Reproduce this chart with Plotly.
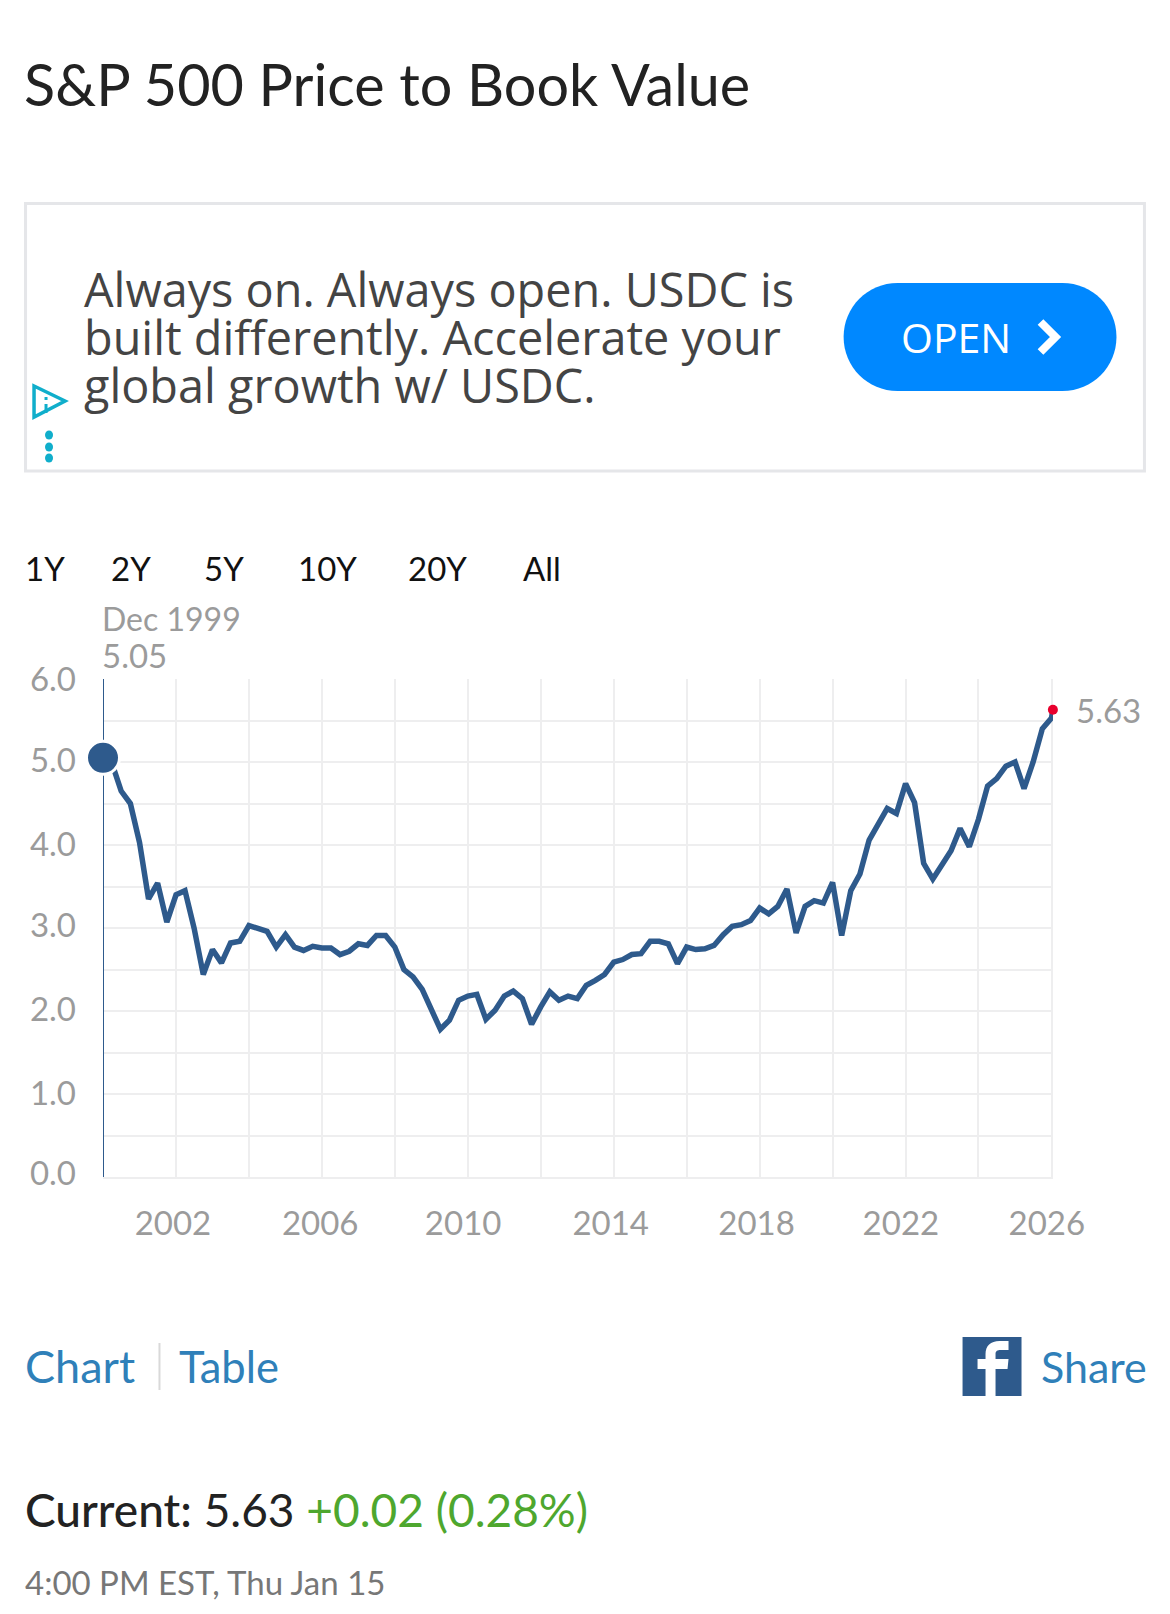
import pandas as pd
import plotly.graph_objects as go

W, H = 1170, 1614
ML, MR, MT, MB = 103, 116.5, 679, 437

# ---- data ----
title_text = "S&P 500 Price to Book Value"
ad_lines = ["Always on. Always open. USDC is", "built differently. Accelerate your", "global growth w/ USDC."]
ad_button = "OPEN"
range_labels = ["1Y", "2Y", "5Y", "10Y", "20Y", "All"]
pb_values = [
    5.05, 4.98, 4.65, 4.50, 4.03, 3.35, 3.54, 3.07, 3.40, 3.45,
    3.00, 2.44, 2.74, 2.58, 2.82, 2.84, 3.03, 3.00, 2.96, 2.77,
    2.92, 2.77, 2.73, 2.78, 2.76, 2.76, 2.68, 2.72, 2.81, 2.79,
    2.91, 2.91, 2.77, 2.50, 2.41, 2.26, 2.01, 1.78, 1.89, 2.13,
    2.18, 2.20, 1.90, 2.01, 2.18, 2.24, 2.15, 1.84, 2.05, 2.23,
    2.13, 2.18, 2.15, 2.31, 2.37, 2.44, 2.59, 2.62, 2.68, 2.69,
    2.84, 2.84, 2.81, 2.57, 2.77, 2.74, 2.75, 2.79, 2.92, 3.02,
    3.04, 3.09, 3.24, 3.17, 3.26, 3.47, 2.94, 3.26, 3.33, 3.30,
    3.55, 2.91, 3.45, 3.65, 4.06, 4.25, 4.44, 4.38, 4.74, 4.51,
    3.78, 3.59, 3.75, 3.93, 4.20, 3.98, 4.31, 4.71, 4.80, 4.95,
    5.00, 4.68, 5.00, 5.40, 5.53, 5.63,
]
dates = list(pd.date_range("2000-01-01", periods=len(pb_values) - 1, freq="QS")) + [pd.Timestamp("2026-01-15")]
x_tick_text = ["2002", "2006", "2010", "2014", "2018", "2022", "2026"]
x_tick_pos = ["2001-12-01", "2005-12-15", "2009-11-15", "2013-12-01", "2017-12-01", "2021-11-15", "2025-11-15"]
y_tick_text = ["0.0", "1.0", "2.0", "3.0", "4.0", "5.0", "6.0"]
y_tick_pos = [0.04, 1.003, 2.015, 3.025, 4.003, 5.015, 5.997]

# ---- style ----
BLUE = "#2e5a8c"
GRID = "#eeeeef"
GRAY = "#9b9b9b"
LINK = "#2f80b9"
FONT = "Lato"

def X(px): return (px - ML) / (W - ML - MR)
def Y(py): return (H - MB - py) / (H - MT - MB)

fig = go.Figure()
fig.add_trace(go.Scatter(x=[dates[0], dates[0]], y=[0, 6], mode="lines",
                         line=dict(color=BLUE, width=2), cliponaxis=False, hoverinfo="skip"))
fig.add_trace(go.Scatter(x=dates, y=pb_values, mode="lines",
                         line=dict(color=BLUE, width=5.5, shape="linear"), cliponaxis=False))
fig.add_trace(go.Scatter(x=[dates[0]], y=[pb_values[0]], mode="markers", cliponaxis=False,
                         marker=dict(color=BLUE, size=33, line=dict(color="white", width=3))))
fig.add_trace(go.Scatter(x=[dates[-1]], y=[pb_values[-1]], mode="markers", cliponaxis=False,
                         marker=dict(color="#e8002d", size=10)))

anns = []
def text(px, py, s, size, color, anchor="left", font=FONT):
    anns.append(dict(x=X(px), y=Y(py), xref="paper", yref="paper", text=s, showarrow=False,
                     xanchor=anchor, yanchor="middle", align="left",
                     font=dict(size=size, color=color, family=font)))

text(22, 84, title_text, 57.5, "#222222")
for ln, py in zip(ad_lines, [289, 337, 385]):
    text(82, py, ln, 46.8, "#444444", font="Open Sans")
text(899, 337, ad_button, 41, "white", font="Open Sans")
for lab, px in zip(range_labels, [23, 109, 202, 296, 406, 521]):
    text(px, 568, lab, 33, "#111111")
text(100, 618, "Dec 1999", 32, GRAY)
text(100, 655, "5.05", 33, GRAY)
text(1075, 710, "5.63", 33, GRAY)
text(23, 1366, "Chart", 45, LINK)
text(177, 1366, "Table", 43.5, LINK)
text(1039, 1366, "Share", 43, LINK)
text(23, 1509, "<span style='font-weight:500'>Current:</span> 5.63 <span style='color:#4ea72e'>+0.02 (0.28%)</span>", 46, "#222222")
text(23, 1582, "4:00 PM EST, Thu Jan 15", 33, "#777777")

shapes = []
def rect(x0, y0, x1, y1, **kw):
    shapes.append(dict(type="rect", xref="paper", yref="paper",
                       x0=X(x0), x1=X(x1), y0=Y(y0), y1=Y(y1), **kw))
def path(points, closed=False, **kw):
    d = ""
    for cmd, *pts in points:
        d += cmd + " ".join(f"{X(pts[i]):.5f},{Y(pts[i+1]):.5f}" for i in range(0, len(pts), 2))
    shapes.append(dict(type="path", xref="paper", yref="paper", path=d + ("Z" if closed else ""), **kw))

# ad box
rect(25.5, 203.5, 1145, 471, line=dict(color="#e5e6e9", width=3), fillcolor="white", layer="below")
# button (pill)
l, r, t, b = 844, 1117, 283, 391
R, k = 54, 30
path([("M", l + R, t), ("L", r - R, t), ("C", r - R + k, t, r, t + R - k, r, t + R),
      ("C", r, b - R + k, r - R + k, b, r - R, b), ("L", l + R, b),
      ("C", l + R - k, b, l, b - R + k, l, t + R), ("C", l, t + R - k, l + R - k, t, l + R, t)],
     closed=True, fillcolor="#0088ff", line=dict(width=0))
path([("M", 1041, 322), ("L", 1056, 337), ("L", 1041, 352)], line=dict(color="white", width=8))
# ad badge
path([("M", 34, 386), ("L", 65, 401), ("L", 34, 417)], closed=True, line=dict(color="#10aecb", width=3.5))
path([("M", 46, 404), ("L", 46, 413)], line=dict(color="#10aecb", width=3))
path([("M", 46, 397), ("L", 46, 400)], line=dict(color="#10aecb", width=3))
for cy in [435, 447, 458]:
    shapes.append(dict(type="circle", xref="paper", yref="paper", x0=X(45), x1=X(53), y0=Y(cy + 4.5), y1=Y(cy - 4.5),
                       fillcolor="#10aecb", line=dict(width=0)))
# separator
path([("M", 159.5, 1343), ("L", 159.5, 1390)], line=dict(color="#d9d9d9", width=2))
# facebook icon
rect(963, 1337, 1022, 1396, fillcolor=BLUE, line=dict(width=0))
path([("M", 996, 1396), ("L", 996, 1369), ("L", 1008, 1369), ("L", 1009, 1359), ("L", 996, 1359),
      ("L", 996, 1354), ("C", 996, 1351, 998, 1350, 1001, 1350), ("L", 1009, 1350), ("L", 1009, 1341),
      ("L", 1000, 1341), ("C", 991, 1341, 986, 1346, 986, 1354), ("L", 986, 1359), ("L", 978, 1359),
      ("L", 978, 1369), ("L", 986, 1369), ("L", 986, 1396)],
     closed=True, fillcolor="white", line=dict(width=0))

fig.update_layout(
    width=W, height=H, autosize=False, showlegend=False,
    paper_bgcolor="white", plot_bgcolor="white",
    margin=dict(l=ML, r=MR, t=MT, b=MB),
    annotations=anns, shapes=shapes,
    xaxis=dict(type="date", range=["2000-01-01", "2026-01-16"],
               tickmode="array", tickvals=x_tick_pos, ticktext=x_tick_text, ticks="",
               tickfont=dict(size=33, color=GRAY, family=FONT), showgrid=False, zeroline=False,
               showline=True, linecolor=GRID, linewidth=1.5, ticklabelstandoff=17,
               minor=dict(showgrid=True, gridcolor=GRID, gridwidth=1.5, dtick="M24", tick0="2000-01-01", ticks="")),
    yaxis=dict(range=[0, 6], tickmode="array", tickvals=y_tick_pos, ticktext=y_tick_text, ticks="",
               tickfont=dict(size=33, color=GRAY, family=FONT), showgrid=False, zeroline=False,
               showline=False, ticklabelstandoff=26,
               minor=dict(showgrid=True, gridcolor=GRID, gridwidth=1.5, dtick=0.5, tick0=0, ticks="")),
)
fig.write_html("out.html", config={"displayModeBar": False},
               post_script="document.body.style.margin='0';document.body.style.overflow='hidden';")
